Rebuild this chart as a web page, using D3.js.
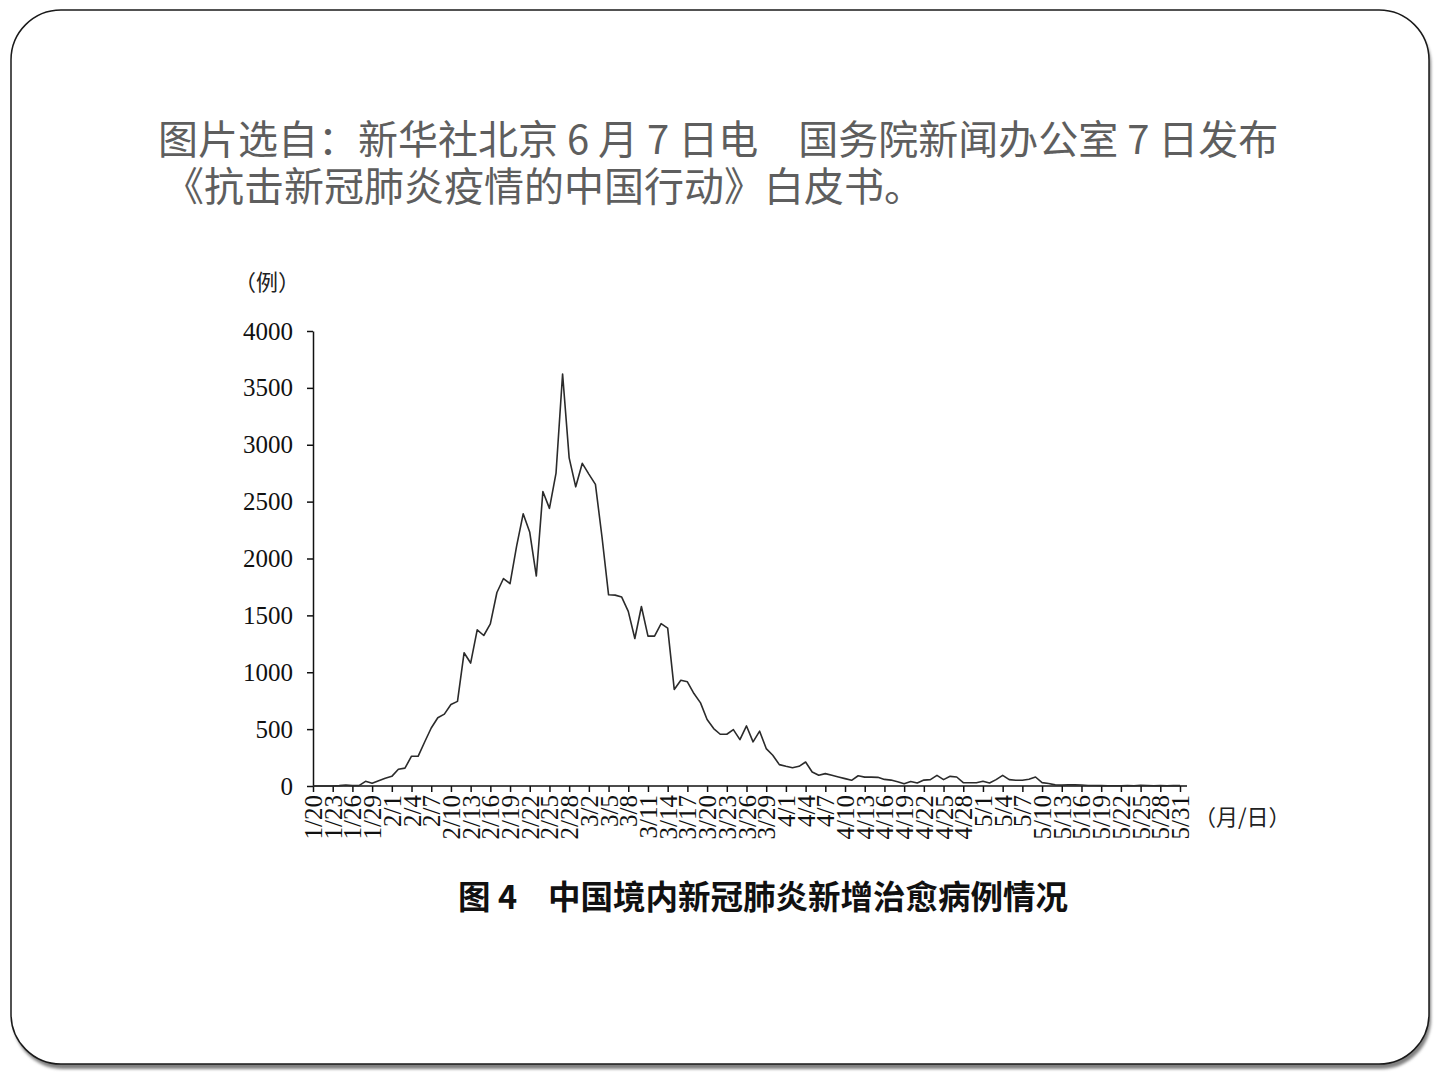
<!DOCTYPE html>
<html>
<head>
<meta charset="utf-8">
<script src="https://cdn.jsdelivr.net/npm/d3@7"></script>
<style>
  html, body { margin: 0; padding: 0; background: #fff; }
  svg { display: block; }
</style>
</head>
<body>
<div id="chart"></div>
<script>
// Daily newly cured cases, 1/20 .. 5/31 (133 days)
const startDate = new Date(2020, 0, 20);
const endDate = new Date(2020, 4, 31);

const cured = [
  0, 0, 0, 0, 3, 9, 3, 3, 41, 24, 47, 68,          // 1/20 - 1/31
  85, 147, 157, 262, 261, 387, 510, 600, 632, 716,  // 2/1 - 2/10
  744, 1171, 1081, 1373, 1323, 1425, 1701, 1824, 1779, 2109, // 2/11 - 2/20
  2393, 2230, 1846, 2589, 2441, 2750, 3622, 2885, 2630,      // 2/21 - 2/29
  2837, 2742, 2652, 2189, 1681, 1678, 1661, 1535, 1297, 1578, // 3/1 - 3/10
  1318, 1318, 1427, 1388, 849, 930, 916, 813, 731, 584,      // 3/11 - 3/20
  505, 455, 455, 496, 408, 528, 388, 482, 329, 270, 188,     // 3/21 - 3/31
  173, 161, 173, 211, 123, 94, 109, 94, 79, 65,              // 4/1 - 4/10
  50, 90, 78, 78, 76, 58, 52, 38, 20, 40,                    // 4/11 - 4/20
  26, 52, 56, 94, 56, 85, 79, 29, 29, 29,                    // 4/21 - 4/30
  41, 26, 56, 94, 56, 50, 50, 60, 79, 30,                    // 5/1 - 5/10
  22, 10, 8, 10, 10, 9, 5, 4, 3, 2,                          // 5/11 - 5/20
  2, 2, 3, 2, 6, 4, 2, 4, 2, 5, 3                            // 5/21 - 5/31
];

const yTicks = [0, 500, 1000, 1500, 2000, 2500, 3000, 3500, 4000];

const xTickLabels = [
  "1/20", "1/23", "1/26", "1/29", "2/1", "2/4", "2/7", "2/10", "2/13", "2/16",
  "2/19", "2/22", "2/25", "2/28", "3/2", "3/5", "3/8", "3/11", "3/14", "3/17",
  "3/20", "3/23", "3/26", "3/29", "4/1", "4/4", "4/7", "4/10", "4/13", "4/16",
  "4/19", "4/22", "4/25", "4/28", "5/1", "5/4", "5/7", "5/10", "5/13", "5/16",
  "5/19", "5/22", "5/25", "5/28", "5/31"
];

const headerLines = [
  "图片选自：新华社北京 6 月 7 日电　国务院新闻办公室 7 日发布",
  "《抗击新冠肺炎疫情的中国行动》白皮书。"
];
const captionNo = "图 4";
const captionText = "中国境内新冠肺炎新增治愈病例情况";

const W = 1440, H = 1080;
const fmt = d3.timeFormat("%-m/%-d");
const days = d3.timeDay.range(startDate, d3.timeDay.offset(endDate, 1)).map(fmt);

const svg = d3.select("#chart").append("svg")
  .attr("width", W)
  .attr("height", H);

// slide frame with a soft shadow
const defs = svg.append("defs");
defs.append("filter").attr("id", "shadow")
  .append("feGaussianBlur").attr("stdDeviation", 1.4);

svg.append("rect")
  .attr("x", 13).attr("y", 15)
  .attr("width", 1418).attr("height", 1054)
  .attr("rx", 50).attr("ry", 50)
  .attr("fill", "#808080")
  .attr("filter", "url(#shadow)");

svg.append("rect")
  .attr("x", 11).attr("y", 10)
  .attr("width", 1418).attr("height", 1054)
  .attr("rx", 50).attr("ry", 50)
  .attr("fill", "#fff")
  .attr("stroke", "#1a1a1a")
  .attr("stroke-width", 1.5);

// header text, one text element with two lines
const header = svg.append("text")
  .style("font-family", "'Noto Sans CJK SC', 'Noto Sans', sans-serif")
  .attr("font-size", 40)
  .attr("fill", "#5e5e5e");

header.append("tspan").attr("x", 158).attr("y", 154).text(headerLines[0]);
header.append("tspan").attr("x", 164).attr("y", 201).text(headerLines[1]);

// chart
const x = d3.scalePoint().domain(days).range([313, 1180]);
const y = d3.scaleLinear().domain([0, 4000]).range([786, 331]);

const serif = "'Liberation Serif', 'Times New Roman', 'DejaVu Serif', serif";

const yAxis = svg.append("g")
  .attr("transform", `translate(${x(days[0])},0)`)
  .call(d3.axisLeft(y).tickValues(yTicks).tickSize(6).tickSizeOuter(0).tickFormat(d3.format("d")));

yAxis.selectAll("text")
  .attr("x", -20)
  .style("font-family", serif)
  .style("font-size", "25px")
  .attr("fill", "#111");

const xAxis = svg.append("g")
  .attr("transform", `translate(0,${y(0)})`)
  .call(d3.axisBottom(x).tickValues(xTickLabels).tickSize(6).tickSizeOuter(0));

// axis line runs a little past the last day
xAxis.select(".domain")
  .attr("d", `M${x(days[0])},0H${x(days[days.length - 1]) + 7}`);

xAxis.selectAll("text")
  .attr("transform", "rotate(-90)")
  .attr("x", -9)
  .attr("y", 0)
  .attr("dy", "0.34em")
  .attr("text-anchor", "end")
  .style("font-family", serif)
  .style("font-size", "25px")
  .attr("fill", "#111");

svg.selectAll(".domain, .tick line")
  .attr("stroke", "#111")
  .attr("stroke-width", 1.5);

// line
const line = d3.line()
  .x((d, i) => x(days[i]))
  .y(d => y(d));

svg.append("path")
  .datum(cured)
  .attr("fill", "none")
  .attr("stroke", "#2b2b2b")
  .attr("stroke-width", 1.6)
  .attr("stroke-linejoin", "round")
  .attr("d", line);

// unit labels
svg.append("text")
  .attr("x", 234).attr("y", 290)
  .style("font-family", "'Noto Sans CJK SC', sans-serif")
  .attr("font-size", 22)
  .attr("fill", "#222")
  .text("（例）");

svg.append("text")
  .attr("x", 1194).attr("y", 825)
  .style("font-family", "'Noto Sans CJK SC', sans-serif")
  .attr("font-size", 22)
  .attr("fill", "#222")
  .text("（月/日）");

// caption
const cap = svg.append("g")
  .style("font-family", "'Noto Sans CJK SC', sans-serif")
  .attr("font-size", 32.5)
  .attr("font-weight", "bold")
  .attr("fill", "#111");

cap.append("text").attr("x", 458).attr("y", 909).text(captionNo);
cap.append("text").attr("x", 548).attr("y", 909).text(captionText);
</script>
</body>
</html>
